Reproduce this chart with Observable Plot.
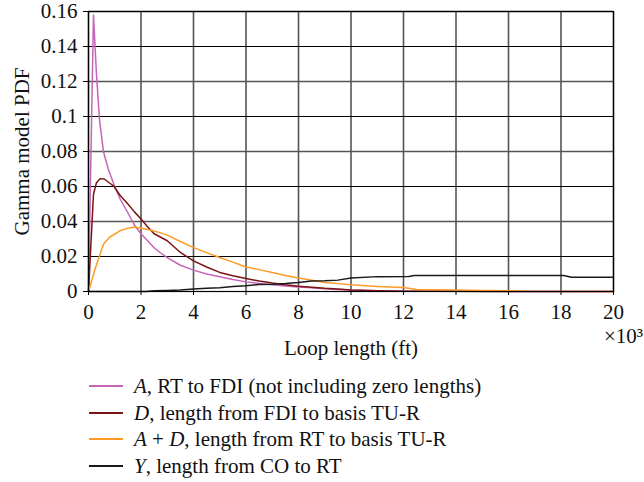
<!DOCTYPE html>
<html>
<head>
<meta charset="utf-8">
<script src="https://cdn.jsdelivr.net/npm/d3@7"></script>
<script src="https://cdn.jsdelivr.net/npm/@observablehq/plot@0.6"></script>
<style>
  body { margin: 0; background: #fff; }
  #chart { width: 644px; }
  .legend { font-family: "Liberation Serif", serif; font-size: 21px; color: #111; }
  .legend .row { position: relative; height: 26.5px; line-height: 26.5px; }
  .legend .sw { position: absolute; left: 89px; top: 12px; width: 34px; height: 2px; }
  .legend .tx { position: absolute; left: 134px; top: 0; white-space: nowrap; }
</style>
</head>
<body>
<div id="chart"></div>
<script>
// Loop length in thousands of feet; PDF values
const aX  = [0, 0.19, 0.3, 0.42, 0.57, 0.75, 0.95, 1.2, 1.5, 1.75, 2, 2.25, 2.5, 2.75, 3, 3.5, 4, 4.5, 5, 5.5, 6, 6.5, 7, 7.5, 8, 8.5, 9, 9.5, 10, 11, 12, 14, 20];
const aV  = [0, 0.158, 0.125, 0.098, 0.080, 0.070, 0.062, 0.053, 0.045, 0.038, 0.033, 0.029, 0.025, 0.022, 0.0194, 0.015, 0.0122, 0.0100, 0.0084, 0.0068, 0.0055, 0.0046, 0.0038, 0.0032, 0.0026, 0.0021, 0.0016, 0.0012, 0.0008, 0.0004, 0.0002, 0.0001, 0];

const dX  = [0, 0.19, 0.3, 0.44, 0.6, 0.8, 0.95, 1.2, 1.5, 1.75, 2, 2.25, 2.5, 2.75, 3, 3.5, 4, 4.5, 5, 5.5, 6, 6.5, 7, 7.5, 8, 8.5, 9, 9.5, 10, 11, 12, 13, 20];
const dV  = [0, 0.0556, 0.062, 0.0645, 0.0643, 0.062, 0.0604, 0.055, 0.050, 0.0455, 0.0414, 0.037, 0.033, 0.031, 0.029, 0.0223, 0.0175, 0.0140, 0.0109, 0.0090, 0.0074, 0.0060, 0.0048, 0.0038, 0.0030, 0.0024, 0.0018, 0.0014, 0.0009, 0.0005, 0.0002, 0.0001, 0];

const adX = [0, 0.03, 0.25, 0.57, 0.8, 1.2, 1.5, 1.75, 2, 2.35, 2.75, 3, 3.5, 4, 4.5, 5, 5.5, 6, 6.5, 7, 7.5, 8, 8.5, 9, 9.5, 10, 11, 12, 12.5, 13, 14, 15, 16.4, 16.6, 20];
const adV = [0, 0.0014, 0.0128, 0.027, 0.031, 0.0347, 0.0362, 0.0368, 0.0362, 0.0351, 0.0335, 0.0322, 0.0286, 0.0251, 0.0222, 0.0194, 0.0168, 0.0140, 0.0125, 0.0109, 0.0092, 0.0077, 0.0064, 0.0052, 0.0045, 0.0038, 0.0029, 0.0023, 0.0012, 0.0010, 0.0008, 0.0006, 0.0004, 0.0001, 0];

const yX  = [0, 2.2, 2.5, 3, 3.5, 4, 4.5, 5, 5.5, 6, 6.5, 7, 7.5, 8, 8.5, 9, 9.5, 10, 11, 12.2, 12.4, 18.1, 18.4, 20];
const yV  = [0, 0, 0.0004, 0.0006, 0.0008, 0.0014, 0.0018, 0.0022, 0.0028, 0.0033, 0.0040, 0.0042, 0.0046, 0.0052, 0.0060, 0.0061, 0.0065, 0.0077, 0.0085, 0.0086, 0.0092, 0.0092, 0.0082, 0.0082];

const seriesNames  = ["A", "D", "A+D", "Y"];
const seriesColors = ["#c664b8", "#7a1414", "#ff9a26", "#1a1a1a"];
const legendHTML   = [
  "<i>A</i>, RT to FDI (not including zero lengths)",
  "<i>D</i>, length from FDI to basis TU-R",
  "<i>A</i> + <i>D</i>, length from RT to basis TU-R",
  "<i>Y</i>, length from CO to RT"
];

const xTicks = [0, 2, 4, 6, 8, 10, 12, 14, 16, 18, 20];
const yTicks = [0, 0.02, 0.04, 0.06, 0.08, 0.1, 0.12, 0.14, 0.16];
const yTickLabels = ["0", "0.02", "0.04", "0.06", "0.08", "0.1", "0.12", "0.14", "0.16"];
const yGridThin  = [0.02, 0.06, 0.1, 0.14];
const yGridThick = [0.04, 0.08, 0.12, 0.16];

const xs = [aX, dX, adX, yX], vs = [aV, dV, adV, yV];
const rows = [];
seriesNames.forEach((s, i) => xs[i].forEach((x, j) => rows.push({series: s, x, y: vs[i][j]})));

const font = "'Liberation Serif', 'Times New Roman', serif";

const plot = Plot.plot({
  width: 644,
  height: 373,
  marginLeft: 88,
  marginRight: 31,
  marginTop: 11,
  marginBottom: 82,
  style: {fontFamily: font, fontSize: "21px", color: "#111", background: "#fff"},
  x: {domain: [0, 20]},
  y: {domain: [0, 0.16]},
  color: {domain: seriesNames, range: seriesColors},
  marks: [
    Plot.gridX(xTicks, {stroke: "#555", strokeOpacity: 1, strokeWidth: 1.6}),
    Plot.gridY(yGridThin, {stroke: "#000", strokeOpacity: 1, strokeWidth: 1}),
    Plot.gridY(yGridThick, {stroke: "#555", strokeOpacity: 1, strokeWidth: 1.6}),
    Plot.lineY(rows, {x: "x", y: "y", z: "series", stroke: "series", strokeWidth: 1.5}),
    Plot.frame({stroke: "#000", strokeWidth: 1.2}),
    Plot.axisX(xTicks, {tickSize: 4, tickPadding: 9, label: null, stroke: "#000", fill: "#111", fontSize: 21}),
    Plot.axisY(yTicks, {tickSize: 5, tickPadding: 6, label: null, tickFormat: (d) => yTickLabels[yTicks.indexOf(d)], stroke: "#000", fill: "#111", fontSize: 21}),
    Plot.text(["Loop length (ft)"], {frameAnchor: "bottom", dy: 57, lineAnchor: "middle", fill: "#111", fontSize: 21}),
    Plot.text(["×10³"], {frameAnchor: "bottom-right", dx: 10, dy: 45, lineAnchor: "middle", textAnchor: "middle", fill: "#111", fontSize: 21}),
    Plot.text(["Gamma model PDF"], {frameAnchor: "left", dx: -66, rotate: -90, lineAnchor: "middle", textAnchor: "middle", fill: "#111", fontSize: 21})
  ]
});
document.getElementById("chart").appendChild(plot);

const legend = document.createElement("div");
legend.className = "legend";
seriesNames.forEach((s, i) => {
  const row = document.createElement("div");
  row.className = "row";
  const sw = document.createElement("span");
  sw.className = "sw";
  sw.style.background = seriesColors[i];
  const tx = document.createElement("span");
  tx.className = "tx";
  tx.innerHTML = legendHTML[i];
  row.appendChild(sw); row.appendChild(tx);
  legend.appendChild(row);
});
document.getElementById("chart").appendChild(legend);
</script>
</body>
</html>
